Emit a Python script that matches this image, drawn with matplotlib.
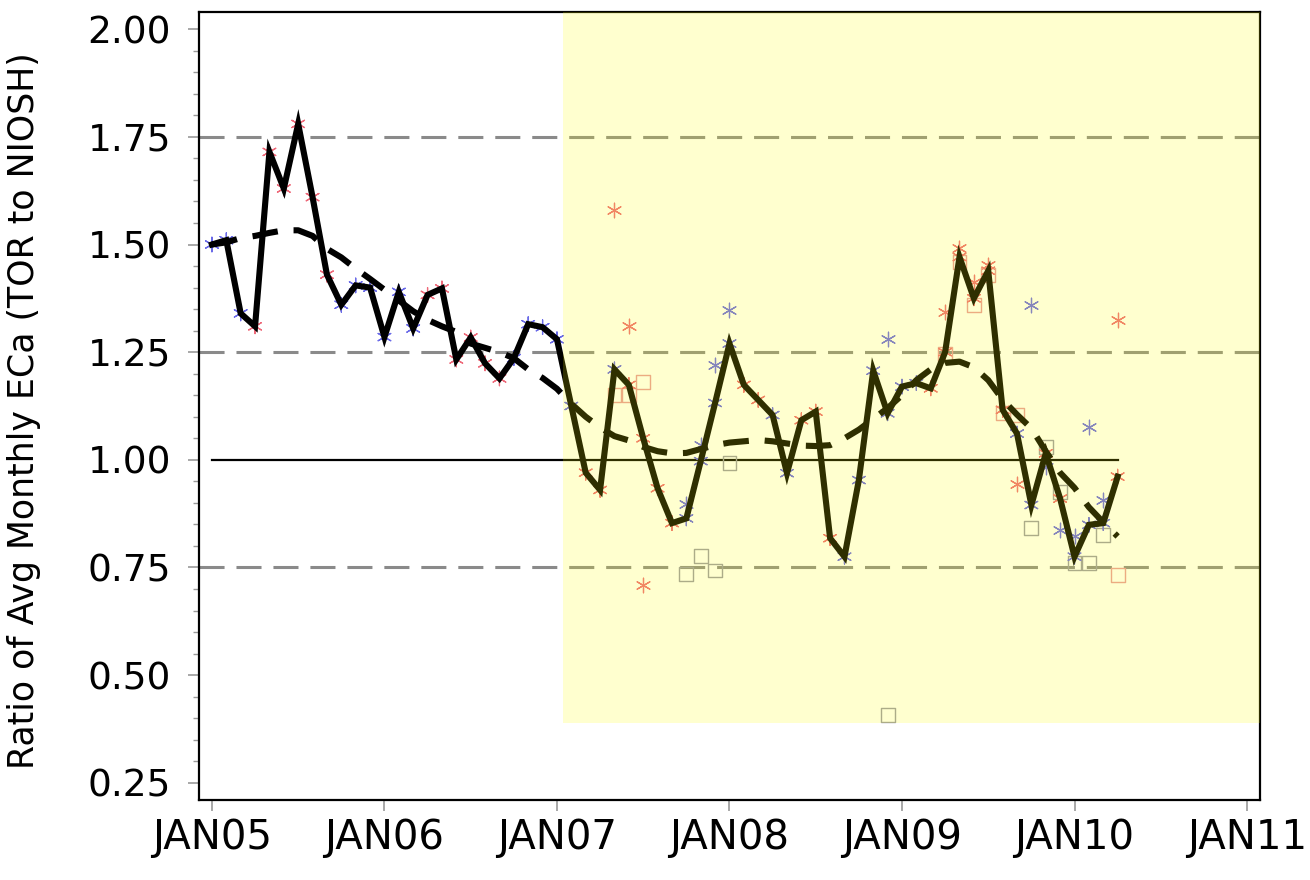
import numpy as np
import matplotlib
matplotlib.use("Agg")
from matplotlib import pyplot as plt
from matplotlib.patches import Rectangle

# monthly ratio of average EC (TOR to NIOSH), JAN05 .. APR10
ratio = [1.50, 1.51, 1.34, 1.31, 1.715, 1.63, 1.78, 1.61, 1.43, 1.36, 1.405, 1.40,
         1.285, 1.39, 1.305, 1.383, 1.398, 1.233, 1.284, 1.224, 1.189, 1.236, 1.315, 1.308,
         1.28, 1.125, 0.97, 0.93, 1.21, 1.174, 1.05, 0.934, 0.853, 0.864, 0.997, 1.132,
         1.27, 1.174, 1.139, 1.104, 0.969, 1.092, 1.112, 0.818, 0.775, 0.953, 1.207, 1.108,
         1.17, 1.178, 1.166, 1.25, 1.471, 1.375, 1.439, 1.116, 1.061, 0.895, 1.015, 0.91,
         0.775, 0.849, 0.853, 0.961]
# smoothed trend
trend = [1.50, 1.505, 1.515, 1.52, 1.527, 1.533, 1.533, 1.52, 1.49, 1.47, 1.444, 1.42,
         1.395, 1.37, 1.345, 1.325, 1.31, 1.297, 1.27, 1.26, 1.25, 1.236, 1.21, 1.19,
         1.165, 1.13, 1.10, 1.075, 1.055, 1.045, 1.03, 1.02, 1.015, 1.016, 1.025, 1.034,
         1.04, 1.043, 1.046, 1.043, 1.038, 1.033, 1.032, 1.034, 1.05, 1.07, 1.095, 1.12,
         1.15, 1.185, 1.21, 1.225, 1.228, 1.215, 1.185, 1.14, 1.105, 1.073, 1.02, 0.97,
         0.935, 0.89, 0.855, 0.822]
# marker colour of each monthly point (r = red site, b = blue site)
site = list("bbbrrrrrrbbbbbbrrrrrrbbbbbrrbrrrrbbbbrrbbrrrbbbbbbrrrrrrbbrrbbbr")
months = np.arange(len(ratio))

# individual site values
red_m = [28, 29, 30, 51, 52, 53, 54, 56, 63]
red_v = [1.58, 1.311, 0.709, 1.344, 1.491, 1.413, 1.452, 0.944, 1.325]
blue_m = [33, 34, 35, 36, 47, 57, 58, 59, 60, 61, 62]
blue_v = [0.898, 1.034, 1.22, 1.348, 1.28, 1.359, 0.984, 0.837, 0.822, 1.077, 0.907]
sq_gray_m = [33, 34, 35, 36, 47, 57, 58, 59, 60, 61, 62]
sq_gray_v = [0.735, 0.777, 0.743, 0.993, 0.408, 0.841, 1.030, 0.926, 0.76, 0.76, 0.825]
sq_pink_m = [28, 29, 30, 51, 52, 53, 54, 55, 56, 63]
sq_pink_v = [1.15, 1.15, 1.18, 1.246, 1.46, 1.36, 1.429, 1.109, 1.104, 0.733]

yticks = [0.25, 0.50, 0.75, 1.00, 1.25, 1.50, 1.75, 2.00]
xlabels = ['JAN05', 'JAN06', 'JAN07', 'JAN08', 'JAN09', 'JAN10', 'JAN11']
shade_start = 24.4   # months after JAN05
shade_low = 0.389

fig = plt.figure(figsize=(13.1, 8.8), dpi=100)
ax = fig.add_axes([0.1519, 0.0909, 0.8099, 0.8955])

red_c = '#ee6a7a'
blue_c = '#6a6ae8'
ast = (6, 2, 0)

for yv in [0.75, 1.25, 1.75]:
    ax.axhline(yv, color='#8a8a8a', lw=2.2, dashes=(8.2, 3.9), zorder=1)
ax.plot([months[0], months[-1]], [1.0, 1.0], color='black', lw=1.6, zorder=2)

ax.scatter(red_m, red_v, marker=ast, s=110, color=red_c, lw=0.9, zorder=3)
ax.scatter(blue_m, blue_v, marker=ast, s=110, color=blue_c, lw=0.9, zorder=3)
ax.scatter(sq_gray_m, sq_gray_v, marker='s', s=100, facecolors='none',
           edgecolors='#9a9aa8', lw=1.0, zorder=3)
ax.scatter(sq_pink_m, sq_pink_v, marker='s', s=100, facecolors='none',
           edgecolors='#e89aa0', lw=1.0, zorder=3)
cols = [red_c if s == 'r' else blue_c for s in site]
ax.scatter(months, ratio, marker=ast, s=110, color=cols, lw=0.9, zorder=3)

ax.plot(months, ratio, color='black', lw=4.4, solid_joinstyle='miter', zorder=5)
ax.plot(months, trend, color='black', lw=4.4, dashes=(4.2, 2.6), zorder=4)

# yellow period overlay
ax.add_patch(Rectangle((shade_start, shade_low), 80, 2.0, facecolor='#ffff00',
                       alpha=0.19, lw=0, zorder=6))

ax.set_xlim(-0.9, 72.9)
ax.set_ylim(0.21, 2.04)
ax.set_xticks(np.arange(0, 73, 12))
ax.set_xticklabels(xlabels)
ax.set_yticks(yticks)
ax.set_yticklabels(['%.2f' % v for v in yticks])
ax.set_yticks(np.arange(0.25, 2.001, 0.05), minor=True)
ax.tick_params(axis='both', which='major', direction='out', length=8,
               width=1.2, color='#9a9a9a', labelsize=27)
ax.tick_params(axis='y', which='minor', direction='out', length=4.5,
               width=1.0, color='#9a9a9a')
ax.tick_params(axis='y', which='major', pad=12)
ax.tick_params(axis='x', which='major', pad=5, labelsize=29)
for sp in ax.spines.values():
    sp.set_linewidth(1.6)

fig.text(0.018, 0.533, 'Ratio of Avg Monthly ECa (TOR to NIOSH)', rotation=90,
         ha='center', va='center', fontsize=25)

fig.savefig('out.png', dpi=100)
